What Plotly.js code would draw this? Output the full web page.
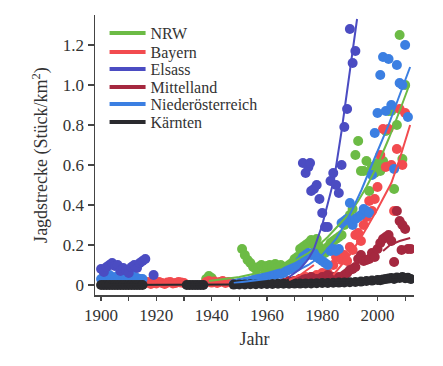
<!DOCTYPE html>
<html>
<head>
<meta charset="utf-8">
<script src="https://cdn.plot.ly/plotly-3.0.1.min.js"></script>
<style>html,body{margin:0;padding:0;background:#fff;}#chart{width:443px;height:366px;}</style>
</head>
<body>
<div id="chart"></div>
<script>
// ---------- data ----------
const seriesNames = ["NRW", "Bayern", "Elsass", "Mittelland", "Niederösterreich", "Kärnten"];

const nrwYears = [1938,1939,1940,1951,1952,1953,1954,1955,1956,1957,1958,1959,1960,1961,1962,1963,1964,1965,1966,1967,1968,1969,1970,1971,1972,1973,1974,1975,1976,1977,1978,1979,1980,1981,1982,1983,1984,1985,1986,1987,1988,1989,1990,1991,1992,1993,1994,1995,1996,1997,1998,1999,2000,2001,2002,2003,2004,2005,2006,2007,2008,2009,2010];
const nrwValues = [0.03,0.045,0.035,0.18,0.15,0.125,0.11,0.09,0.08,0.09,0.10,0.085,0.095,0.10,0.09,0.105,0.09,0.10,0.085,0.09,0.10,0.11,0.13,0.14,0.18,0.19,0.20,0.21,0.225,0.20,0.23,0.19,0.17,0.16,0.19,0.21,0.22,0.23,0.24,0.25,0.30,0.33,0.35,0.38,0.65,0.72,0.57,0.57,0.62,0.47,0.59,0.56,0.61,0.57,0.62,0.77,0.87,0.87,0.48,0.80,1.25,0.63,1.00];

const bayYears = [1916,1917,1918,1919,1920,1921,1922,1923,1924,1925,1926,1927,1928,1929,1930,1938,1939,1940,1941,1942,1943,1944,1945,1946,1947,1970,1972,1974,1976,1978,1980,1982,1984,1985,1986,1987,1988,1989,1990,1991,1992,1993,1994,1995,1996,1997,1998,1999,2000,2001,2002,2003,2004,2005,2006,2007,2008,2009,2010];
const bayValues = [0.01,0.015,0.005,0.012,0.008,0.015,0.01,0.005,0.012,0.015,0.008,0.01,0.015,0.012,0.01,0.015,0.02,0.012,0.018,0.01,0.015,0.02,0.01,0.015,0.012,0.02,0.03,0.04,0.04,0.05,0.06,0.06,0.10,0.14,0.17,0.125,0.15,0.12,0.19,0.175,0.25,0.26,0.22,0.30,0.34,0.42,0.37,0.43,0.49,0.65,0.78,0.59,0.78,0.60,0.37,0.68,0.88,0.60,0.86];

const elsYears = [1900,1901,1902,1903,1904,1905,1906,1907,1908,1909,1910,1911,1912,1913,1914,1915,1916,1919,1973,1974,1975,1975.6,1976,1977,1978,1979,1980,1981,1982,1983,1984,1985,1986,1987,1988,1989,1990,1991,1992];
const elsValues = [0.08,0.065,0.09,0.10,0.11,0.095,0.10,0.07,0.085,0.075,0.06,0.09,0.10,0.085,0.11,0.12,0.13,0.05,0.61,0.56,0.59,0.61,0.47,0.48,0.50,0.43,0.36,0.29,0.29,0.52,0.56,0.50,0.46,0.60,0.79,0.88,1.28,1.11,1.17];

const mitYears = [1966,1968,1970,1972,1974,1976,1978,1980,1982,1984,1986,1987,1988,1989,1990,1991,1992,1993,1994,1995,1996,1997,1998,1999,2000,2001,2002,2003,2004,2005,2006,2007,2008,2008.7,2009,2010,2011,2012];
const mitValues = [0.01,0.02,0.02,0.03,0.03,0.04,0.03,0.04,0.05,0.04,0.04,0.04,0.05,0.06,0.075,0.08,0.09,0.13,0.15,0.12,0.125,0.13,0.16,0.14,0.18,0.21,0.23,0.24,0.25,0.22,0.115,0.37,0.32,0.175,0.30,0.28,0.18,0.18];

const noeYears = [1900,1901,1902,1903,1904,1905,1906,1907,1908,1909,1910,1911,1912,1913,1914,1915,1948,1949,1950,1951,1952,1953,1954,1955,1956,1957,1958,1959,1960,1961,1962,1963,1964,1965,1966,1967,1968,1969,1970,1971,1972,1973,1974,1975,1976,1977,1978,1979,1980,1981,1982,1983,1984,1985,1986,1987,1988,1989,1990,1991,1992,1993,1994,1995,1996,1997,1998,1999,2000,2001,2002,2003,2004,2005,2006,2007,2008,2009,2010,2011];
const noeValues = [0.03,0.04,0.035,0.05,0.04,0.03,0.045,0.04,0.05,0.035,0.04,0.05,0.04,0.035,0.03,0.03,0.005,0.008,0.01,0.012,0.015,0.018,0.02,0.025,0.03,0.035,0.03,0.04,0.045,0.05,0.055,0.05,0.06,0.055,0.06,0.07,0.08,0.085,0.09,0.10,0.12,0.14,0.15,0.16,0.15,0.16,0.14,0.13,0.12,0.11,0.10,0.17,0.18,0.17,0.18,0.31,0.32,0.33,0.41,0.30,0.33,0.34,0.35,0.38,0.37,0.36,0.55,0.76,0.86,1.05,1.14,0.87,1.13,0.90,0.58,1.10,1.01,1.00,1.20,0.84];

const karYears = [1900,1901,1902,1903,1904,1905,1906,1907,1908,1909,1910,1911,1912,1913,1914,1915,1931,1932,1933,1934,1935,1936,1937,1948,1950,1952,1954,1956,1958,1960,1962,1964,1966,1968,1970,1972,1974,1976,1978,1980,1982,1984,1986,1988,1990,1992,1994,1996,1998,2000,2001,2002,2003,2004,2005,2006,2007,2008,2009,2010,2011,2012];
const karValues = [0,0,0,0,0,0,0,0,0,0,0,0,0,0,0,0,0,0,0,0,0,0,0,0.002,0.003,0.003,0.004,0.004,0.005,0.005,0.005,0.006,0.006,0.006,0.007,0.007,0.008,0.008,0.009,0.01,0.01,0.011,0.012,0.013,0.014,0.015,0.017,0.02,0.022,0.025,0.024,0.028,0.03,0.032,0.035,0.03,0.038,0.035,0.04,0.034,0.036,0.03];

// fitted trend curves
const nrwTrendX = [1939,1945,1950,1955,1960,1965,1970,1975,1978,1982,1986,1990,1993,1996,2000,2004,2008,2011.5];
const nrwTrendY = [0.02,0.03,0.04,0.055,0.07,0.09,0.12,0.16,0.19,0.24,0.30,0.36,0.42,0.49,0.60,0.73,0.87,1.00];
const bayTrendX = [1968,1972,1977,null,1984,1987,1990,1995,2000,2005,2008,2011.8];
const bayTrendY = [0.025,0.05,0.10,null,0.05,0.10,0.15,0.26,0.38,0.51,0.63,0.80];
const elsTrendX = [1968,1972,1975,1977,1980,1982,1984.3,1987,1990,1992.6];
const elsTrendY = [0.04,0.08,0.13,0.18,0.30,0.41,0.53,0.77,1.07,1.33];
const mitTrendX = [2002,2004.5,2008,2011.8];
const mitTrendY = [0.17,0.20,0.22,0.235];
const noeTrendX = [1948,1955,1960,1965,1970,1975,1980,1985,1988,1991,1994.2,1997,2000,2004,2008,2011.8];
const noeTrendY = [0.01,0.02,0.03,0.045,0.065,0.10,0.15,0.23,0.30,0.38,0.475,0.57,0.67,0.80,0.95,1.09];
const karTrendX = [1900,1950,1980,2000,2012];
const karTrendY = [0.0,0.002,0.008,0.02,0.03];

const xTickVals = [1900,1920,1940,1960,1980,2000];
const xTickText = ["1900","1920","1940","1960","1980","2000"];
const yTickVals = [0,0.2,0.4,0.6,0.8,1.0,1.2];
const yTickText = ["0","0.2","0.4","0.6","0.8","1.0","1.2"];

// ---------- styling ----------
const colors = {
  NRW: "#6cbb45",
  Bayern: "#f24b4f",
  Elsass: "#4b4cc2",
  Mittelland: "#a5283f",
  "Niederösterreich": "#3b7fe2",
  "Kärnten": "#2a2a2e"
};
const FONT = "Liberation Serif";

const pts = [
  ["NRW", nrwYears, nrwValues],
  ["Bayern", bayYears, bayValues],
  ["Mittelland", mitYears, mitValues],
  ["Niederösterreich", noeYears, noeValues],
  ["Elsass", elsYears, elsValues],
  ["Kärnten", karYears, karValues]
];
const trends = [
  ["NRW", nrwTrendX, nrwTrendY],
  ["Bayern", bayTrendX, bayTrendY],
  ["Mittelland", mitTrendX, mitTrendY],
  ["Niederösterreich", noeTrendX, noeTrendY],
  ["Elsass", elsTrendX, elsTrendY],
  ["Kärnten", karTrendX, karTrendY]
];

const traces = [];
pts.forEach(([n, x, y]) => traces.push({
  type: "scatter", mode: "markers", x: x, y: y, name: n, showlegend: false,
  marker: {size: 10, color: colors[n], line: {width: 0}}, hoverinfo: "x+y+name"
}));
trends.forEach(([n, x, y]) => traces.push({
  type: "scatter", mode: "lines", x: x, y: y, name: n, showlegend: false,
  line: {color: colors[n], width: 2}, connectgaps: false, hoverinfo: "skip"
}));

// legend entries: one legend per row
const legendRowsPx = [33, 52, 69, 87, 104, 122];
const layout = {
  width: 443, height: 366,
  margin: {l: 95, r: 29, t: 15, b: 71},
  paper_bgcolor: "#ffffff", plot_bgcolor: "#ffffff",
  font: {family: FONT, color: "#333"},
  xaxis: {
    range: [1897.8, 2013.2], tickvals: xTickVals, ticktext: xTickText,
    ticks: "outside", ticklen: 4, tickwidth: 1.3, tickcolor: "#444",
    minor: {tick0: 1900, dtick: 10, ticks: "outside", ticklen: 4, tickwidth: 1.3, tickcolor: "#444", showgrid: false},
    showline: true, linecolor: "#444", linewidth: 1.5, showgrid: false, zeroline: false,
    tickfont: {family: FONT, size: 17, color: "#333"},
    title: {text: "Jahr", font: {family: FONT, size: 18, color: "#333"}, standoff: 8}
  },
  yaxis: {
    range: [-0.05, 1.35], tickvals: yTickVals, ticktext: yTickText,
    ticks: "outside", ticklen: 6, tickwidth: 1.3, tickcolor: "#444",
    showline: true, linecolor: "#444", linewidth: 1.5, showgrid: false, zeroline: false,
    tickfont: {family: FONT, size: 17, color: "#333"},
    title: {text: "Jagdstrecke (Stück/km<sup>2</sup>)", font: {family: FONT, size: 18, color: "#333"}, standoff: 10}
  },
  showlegend: true
};
seriesNames.forEach((n, i) => {
  const key = i === 0 ? "legend" : "legend" + (i + 1);
  layout[key] = {
    x: 0.03, xanchor: "left", y: (295 - legendRowsPx[i]) / 280, yanchor: "middle",
    bgcolor: "rgba(0,0,0,0)", borderwidth: 0, itemwidth: 36,
    font: {family: FONT, size: 16, color: "#333"}
  };
  traces.push({
    type: "scatter", mode: "lines", x: [null], y: [null], name: n,
    legend: key, showlegend: true, line: {color: colors[n], width: 4}, hoverinfo: "skip"
  });
});

Plotly.newPlot("chart", traces, layout, {displayModeBar: false, staticPlot: true});
</script>
</body>
</html>
